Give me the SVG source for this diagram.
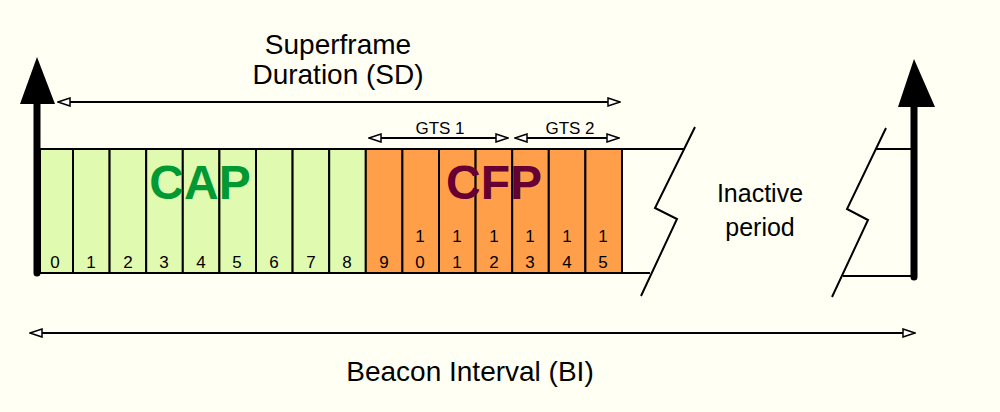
<svg xmlns="http://www.w3.org/2000/svg" width="1000" height="412" viewBox="0 0 1000 412">
<defs>
<style>
text{font-family:"Liberation Sans",Arial,sans-serif;fill:#000}
.g{fill:#e0fbb0;stroke:#000;stroke-width:2}
.o{fill:#ff9f4a;stroke:#000;stroke-width:2}
.l{stroke:#000;stroke-width:2;fill:none}
.n{font-size:17px;text-anchor:middle}
.big{font-size:28px;text-anchor:middle}
.thick{stroke:#000;stroke-width:7;stroke-linecap:round}
</style>
<marker id="oa" markerWidth="14" markerHeight="10" refX="13" refY="5" orient="auto-start-reverse" markerUnits="userSpaceOnUse"><path d="M1,1 L13,5 L1,9 Z" fill="#fff" stroke="#000" stroke-width="1.5"/></marker>
</defs>
<rect width="1000" height="412" fill="#fffff4"/>
<g id="slots">
<rect class="g" x="40" y="149" width="33" height="124"/>
<rect class="g" x="73" y="149" width="36.6" height="124"/>
<rect class="g" x="109.6" y="149" width="36.6" height="124"/>
<rect class="g" x="146.2" y="149" width="36.6" height="124"/>
<rect class="g" x="182.8" y="149" width="36.6" height="124"/>
<rect class="g" x="219.4" y="149" width="36.6" height="124"/>
<rect class="g" x="256" y="149" width="36.6" height="124"/>
<rect class="g" x="292.6" y="149" width="36.6" height="124"/>
<rect class="g" x="329.2" y="149" width="36.6" height="124"/>
<rect class="o" x="365.8" y="149" width="36.6" height="124"/>
<rect class="o" x="402.4" y="149" width="36.6" height="124"/>
<rect class="o" x="439" y="149" width="36.6" height="124"/>
<rect class="o" x="475.6" y="149" width="36.6" height="124"/>
<rect class="o" x="512.2" y="149" width="36.6" height="124"/>
<rect class="o" x="548.8" y="149" width="36.6" height="124"/>
<rect class="o" x="585.4" y="149" width="36.6" height="124"/>
<text x="200" y="199" style="font-size:48px;font-weight:bold;fill:#009933" text-anchor="middle">CAP</text>
<text x="494" y="199" style="font-size:48px;font-weight:bold;fill:#660033" text-anchor="middle">CFP</text>
<text class="n" x="55" y="268">0</text><text class="n" x="91" y="268">1</text><text class="n" x="128" y="268">2</text><text class="n" x="164" y="268">3</text><text class="n" x="201" y="268">4</text><text class="n" x="237" y="268">5</text><text class="n" x="274" y="268">6</text><text class="n" x="311" y="268">7</text><text class="n" x="347" y="268">8</text><text class="n" x="384" y="268">9</text>
<text class="n" x="420" y="242">1</text><text class="n" x="420" y="268">0</text>
<text class="n" x="457" y="242">1</text><text class="n" x="457" y="268">1</text>
<text class="n" x="494" y="242">1</text><text class="n" x="494" y="268">2</text>
<text class="n" x="530" y="242">1</text><text class="n" x="530" y="268">3</text>
<text class="n" x="567" y="242">1</text><text class="n" x="567" y="268">4</text>
<text class="n" x="603" y="242">1</text><text class="n" x="603" y="268">5</text>
</g>
<g id="inactive">
<line class="l" x1="622" y1="149" x2="685" y2="149"/>
<line class="l" x1="622" y1="273" x2="650" y2="273"/>
<polyline class="l" points="695,127 655,208 677,219 641,296"/>
<polyline class="l" points="886,128 847,209 868,220 832,297"/>
<line class="l" x1="876" y1="149" x2="914" y2="149"/>
<line class="l" x1="843" y1="276" x2="914" y2="276"/>
<text x="760" y="202" style="font-size:25px" text-anchor="middle">Inactive</text>
<text x="760" y="236" style="font-size:25px" text-anchor="middle">period</text>
</g>
<g id="connectors">
<line class="thick" x1="37" y1="273" x2="37" y2="100"/>
<polygon points="37,57 20,104 55,104"/>
<line class="thick" x1="914" y1="277" x2="914" y2="103"/>
<polygon points="914,59 898,107 935,107"/>
<line class="l" x1="58" y1="102" x2="620" y2="102" marker-start="url(#oa)" marker-end="url(#oa)"/>
<line class="l" x1="369" y1="138" x2="508" y2="138" marker-start="url(#oa)" marker-end="url(#oa)"/>
<line class="l" x1="515" y1="138" x2="619" y2="138" marker-start="url(#oa)" marker-end="url(#oa)"/>
<line class="l" x1="30" y1="333" x2="915" y2="333" marker-start="url(#oa)" marker-end="url(#oa)"/>
</g>
<g id="labels">
<text class="big" x="338" y="54">Superframe</text>
<text class="big" x="338" y="84">Duration (SD)</text>
<text x="440" y="134" style="font-size:17px" text-anchor="middle">GTS 1</text>
<text x="570" y="134" style="font-size:17px" text-anchor="middle">GTS 2</text>
<text class="big" x="470" y="381">Beacon Interval (BI)</text>
</g>
</svg>
